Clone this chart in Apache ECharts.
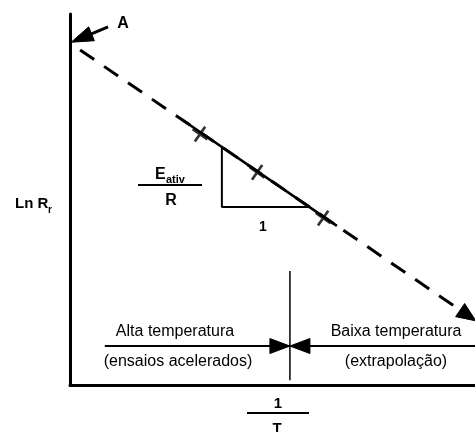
<!DOCTYPE html>
<html>
<head>
<meta charset="utf-8">
<script src="https://cdn.jsdelivr.net/npm/echarts@6/dist/echarts.min.js"></script>
<style>
  html, body { margin: 0; padding: 0; background: #fff; }
  #chart { width: 475px; height: 432px; }
</style>
</head>
<body>
<div id="chart"></div>
<script>
// Arrhenius plot: Ln R_r against 1/T (arbitrary units, 0..100 on both axes)

// measured points at high temperature (accelerated tests)
const measuredInvT = [32.1, 46.2, 62.5];
const measuredLnR = [67.6, 57.3, 45.0];

// fitted straight line: dashed extrapolation and the solid fitted part
const trendDashed = [[2.5, 90.3], [100.2, 17.3]];
const trendSolid = [[27.7, 71.5], [65.9, 42.9]];

// slope triangle (rise = Eativ/R, run = 1)
const slopeTriangle = [[37.5, 64.1], [37.5, 48.0], [58.8, 48.0]];

// pointer to the intercept A
const pointerA = [[9.4, 96.5], [0.3, 92.4]];

// boundary between high and low temperature regions
const boundaryInvT = 54.3;
const boundarySpan = [1.3, 30.7];
const regionArrowLnR = 10.5;
const regionArrowStarts = [8.6, 100];

const ink = '#000';
const textFont = '"Liberation Sans", Arial, sans-serif';

const chart = echarts.init(document.getElementById('chart'), null, { renderer: 'canvas' });

const measured = measuredInvT.map((x, i) => [x, measuredLnR[i]]);

// a custom series drawing straight arrows whose tip sits exactly on the end point
function arrowSeries(name, segments, look) {
  return {
    name: name,
    type: 'custom',
    coordinateSystem: 'cartesian2d',
    clip: false,
    z: look.z || 4,
    data: segments.map(s => [s[0][0], s[0][1], s[1][0], s[1][1]]),
    encode: { x: [0, 2], y: [1, 3] },
    renderItem: function (params, api) {
      const p1 = api.coord([api.value(0), api.value(1)]);
      const p2 = api.coord([api.value(2), api.value(3)]);
      const dx = p2[0] - p1[0], dy = p2[1] - p1[1];
      const len = Math.sqrt(dx * dx + dy * dy);
      const ux = dx / len, uy = dy / len;
      const nx = -uy, ny = ux;
      const bx = p2[0] - ux * look.headLength, by = p2[1] - uy * look.headLength;
      const hw = look.headWidth / 2;
      return {
        type: 'group',
        children: [
          {
            type: 'line',
            shape: { x1: p1[0], y1: p1[1], x2: bx + ux * 2, y2: by + uy * 2 },
            style: { stroke: ink, lineWidth: look.width, lineDash: look.dash || null, fill: null }
          },
          {
            type: 'polygon',
            shape: { points: [[p2[0], p2[1]], [bx + nx * hw, by + ny * hw], [bx - nx * hw, by - ny * hw]] },
            style: { fill: ink, stroke: ink, lineWidth: 1 }
          }
        ]
      };
    }
  };
}

const option = {
  backgroundColor: '#fff',
  animation: false,
  grid: { left: 70, right: 0, top: 14, bottom: 47 },
  xAxis: {
    type: 'value', min: 0, max: 100,
    axisLine: { show: true, onZero: false, lineStyle: { color: ink, width: 3 } },
    axisTick: { show: false }, axisLabel: { show: false }, splitLine: { show: false }
  },
  yAxis: {
    type: 'value', min: 0, max: 100,
    axisLine: { show: true, onZero: false, lineStyle: { color: ink, width: 3 } },
    axisTick: { show: false }, axisLabel: { show: false }, splitLine: { show: false }
  },
  series: [
    arrowSeries('extrapolação', [trendDashed], { width: 3, dash: [17, 12], headLength: 19, headWidth: 16, z: 3 }),
    {
      name: 'ajuste',
      type: 'line',
      showSymbol: false,
      clip: false,
      lineStyle: { color: ink, width: 2.6 },
      data: trendSolid,
      z: 4
    },
    {
      name: 'inclinação',
      type: 'line',
      showSymbol: false,
      lineStyle: { color: ink, width: 2 },
      data: slopeTriangle,
      z: 4
    },
    {
      name: 'ensaios',
      type: 'scatter',
      symbol: 'path://M-1.2,-8h2.4v16h-2.4zM-8,-1.2h16v2.4h-16z',
      symbolSize: 18,
      symbolRotate: 55,
      itemStyle: { color: ink },
      data: measured,
      z: 5
    },
    arrowSeries('A', [pointerA], { width: 3, headLength: 22, headWidth: 15, z: 5 }),
    {
      name: 'limite',
      type: 'line',
      showSymbol: false,
      lineStyle: { color: ink, width: 1.5 },
      data: boundarySpan.map(y => [boundaryInvT, y]),
      z: 4
    },
    arrowSeries('regiões',
      regionArrowStarts.map(x => [[x, regionArrowLnR], [boundaryInvT, regionArrowLnR]]),
      { width: 2, headLength: 20, headWidth: 15, z: 4 })
  ],
  graphic: [
    // intercept label
    { type: 'text', x: 123, y: 24, style: { text: 'A', font: 'bold 16px ' + textFont, fill: ink, align: 'center', verticalAlign: 'middle' } },
    // y axis title: Ln R_r
    { type: 'text', x: 15, y: 204, style: { text: 'Ln R', font: 'bold 15px ' + textFont, fill: ink, align: 'left', verticalAlign: 'middle' } },
    { type: 'text', x: 48, y: 210, style: { text: 'r', font: 'bold 10px ' + textFont, fill: ink, align: 'left', verticalAlign: 'middle' } },
    // slope label: Eativ / R
    { type: 'text', x: 155, y: 175, style: { text: 'E', font: 'bold 16px ' + textFont, fill: ink, align: 'left', verticalAlign: 'middle' } },
    { type: 'text', x: 166, y: 180, style: { text: 'ativ', font: 'bold 11px ' + textFont, fill: ink, align: 'left', verticalAlign: 'middle' } },
    { type: 'line', shape: { x1: 138, y1: 185, x2: 202, y2: 185 }, style: { stroke: ink, lineWidth: 2 } },
    { type: 'text', x: 171, y: 201, style: { text: 'R', font: 'bold 16px ' + textFont, fill: ink, align: 'center', verticalAlign: 'middle' } },
    // run of the slope triangle
    { type: 'text', x: 263, y: 227, style: { text: '1', font: 'bold 14px ' + textFont, fill: ink, align: 'center', verticalAlign: 'middle' } },
    // region labels
    { type: 'text', x: 175, y: 332, style: { text: 'Alta temperatura', font: '16px ' + textFont, fill: ink, align: 'center', verticalAlign: 'middle' } },
    { type: 'text', x: 178, y: 362, style: { text: '(ensaios acelerados)', font: '16px ' + textFont, fill: ink, align: 'center', verticalAlign: 'middle' } },
    { type: 'text', x: 396, y: 332, style: { text: 'Baixa temperatura', font: '16px ' + textFont, fill: ink, align: 'center', verticalAlign: 'middle' } },
    { type: 'text', x: 396, y: 362, style: { text: '(extrapolação)', font: '16px ' + textFont, fill: ink, align: 'center', verticalAlign: 'middle' } },
    // x axis title: 1/T
    { type: 'text', x: 278, y: 404, style: { text: '1', font: 'bold 15px ' + textFont, fill: ink, align: 'center', verticalAlign: 'middle' } },
    { type: 'line', shape: { x1: 247, y1: 413, x2: 309, y2: 413 }, style: { stroke: ink, lineWidth: 2 } },
    { type: 'text', x: 277, y: 421, style: { text: 'T', font: 'bold 15px ' + textFont, fill: ink, align: 'center', verticalAlign: 'top' } }
  ]
};

chart.setOption(option);
</script>
</body>
</html>
